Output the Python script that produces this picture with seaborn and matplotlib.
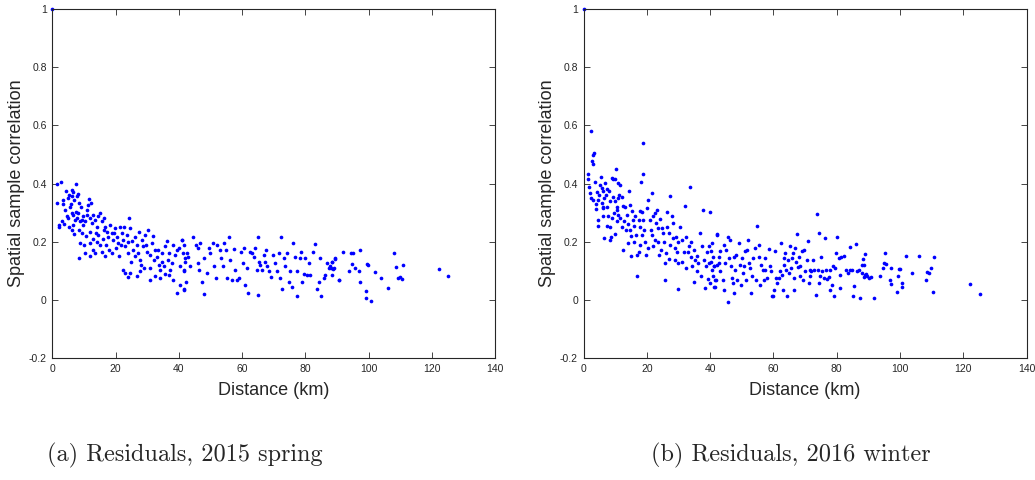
import matplotlib
matplotlib.use('Agg')
import matplotlib.pyplot as plt
import seaborn as sns
import pandas as pd

# ---- data ----------------------------------------------------------------
# (a) 2015 spring, distance < ~43 km
spring_km_near = [
    0, 1.4, 2.8, 1.6, 2.1, 2.1, 3.0, 3.3, 3.5, 4.3,
    5.1, 5.4, 6.1, 6.3, 6.7, 7.4, 7.0, 7.7, 8.0, 8.4,
    5.6, 6.1, 6.7, 7.2, 7.5, 7.7, 5.4, 6.1, 6.7, 8.8,
    8.6, 8.8, 8.6, 9.3, 9.8, 9.8, 10.3, 10.9, 11.1, 11.4,
    11.7, 12.1, 11.9, 12.5, 11.9, 13.0, 13.5, 14.0, 14.6, 15.1,
    15.6, 16.2, 10.1, 10.4, 11.9, 13.0, 13.5, 14.6, 15.1, 15.6,
    16.7, 17.2, 17.7, 18.3, 18.8, 19.3, 19.8, 20.4, 20.9, 21.4,
    22.0, 22.5, 23.0, 23.5, 24.4, 24.6, 25.1, 25.6, 22.5, 23.0,
    23.8, 24.6, 26.2, 26.7, 27.2, 27.5, 27.8, 28.3, 28.8, 26.7,
    27.8, 29.3, 29.9, 30.1, 30.9, 31.4, 32.0, 32.5, 30.9, 32.5,
    33.0, 33.6, 34.1, 34.6, 35.2, 35.7, 36.2, 34.1, 36.7, 37.2,
    37.8, 38.3, 38.8, 39.4, 39.9, 40.4, 41.0, 41.5, 42.0, 42.5,
    39.4, 40.4, 41.5, 4.0, 4.6, 3.7, 5.0, 8.2, 9.0, 9.5,
    10.6, 12.8, 14.2, 16.0, 17.0, 18.0, 19.0, 20.0, 21.0, 21.8,
    23.8, 25.0, 26.0, 28.0, 29.0, 31.0, 33.5, 35.5, 37.0, 38.0,
    13.8, 16.5, 19.5, 22.8, 24.0, 29.5, 31.8, 34.8, 36.8, 16.8,
    12.0, 7.0, 6.0]
spring_corr_near = [
    1.0, 0.399, 0.405, 0.333, 0.258, 0.250, 0.27, 0.342, 0.33, 0.376,
    0.35, 0.36, 0.356, 0.379, 0.37, 0.398, 0.344, 0.358, 0.365, 0.333,
    0.321, 0.298, 0.293, 0.275, 0.304, 0.281, 0.252, 0.241, 0.258, 0.27,
    0.239, 0.195, 0.144, 0.275, 0.287, 0.258, 0.27, 0.293, 0.31, 0.327,
    0.346, 0.333, 0.281, 0.264, 0.235, 0.293, 0.275, 0.252, 0.287, 0.298,
    0.27, 0.281, 0.19, 0.161, 0.195, 0.172, 0.161, 0.224, 0.19, 0.166,
    0.252, 0.235, 0.218, 0.258, 0.23, 0.207, 0.247, 0.218, 0.195, 0.252,
    0.23, 0.207, 0.184, 0.224, 0.281, 0.247, 0.201, 0.172, 0.103, 0.092,
    0.078, 0.092, 0.218, 0.19, 0.161, 0.235, 0.138, 0.207, 0.184, 0.081,
    0.098, 0.224, 0.166, 0.241, 0.155, 0.195, 0.138, 0.172, 0.069, 0.081,
    0.149, 0.121, 0.103, 0.132, 0.115, 0.184, 0.204, 0.075, 0.138, 0.103,
    0.126, 0.069, 0.155, 0.172, 0.178, 0.115, 0.207, 0.103, 0.144, 0.161,
    0.023, 0.052, 0.037, 0.31, 0.29, 0.26, 0.28, 0.30, 0.32, 0.23,
    0.22, 0.21, 0.20, 0.21, 0.19, 0.17, 0.16, 0.18, 0.15, 0.19,
    0.16, 0.13, 0.15, 0.12, 0.11, 0.11, 0.17, 0.09, 0.16, 0.19,
    0.23, 0.24, 0.23, 0.25, 0.20, 0.19, 0.22, 0.16, 0.085, 0.15,
    0.15, 0.225, 0.33]

# (a) 2015 spring, distance > ~40 km
spring_km_far = [
    40.9, 41.7, 41.3, 42.0, 41.5, 42.3, 41.7, 43.0, 43.6, 44.6,
    45.5, 46.2, 46.7, 45.9, 46.5, 47.3, 48.0, 47.8, 48.8, 49.4,
    49.9, 50.7, 51.0, 52.0, 51.8, 52.9, 53.3, 53.9, 54.4, 55.0,
    55.2, 56.0, 56.2, 56.8, 57.3, 57.8, 58.3, 58.9, 59.6, 60.2,
    60.7, 61.0, 61.5, 62.0, 62.6, 63.1, 63.6, 64.1, 64.7, 65.0,
    65.2, 64.9, 65.7, 66.3, 66.8, 67.3, 67.6, 68.0, 68.4, 69.1,
    69.7, 70.5, 71.0, 71.5, 72.1, 72.4, 72.6, 73.1, 73.6, 74.2,
    74.7, 75.2, 75.8, 76.1, 76.8, 77.3, 77.5, 78.2, 78.6, 78.9,
    79.4, 80.0, 80.5, 81.0, 81.5, 82.4, 83.1, 84.2, 83.7, 84.7,
    85.0, 85.8, 86.3, 86.8, 87.4, 87.9, 88.4, 88.9, 89.5, 90.5,
    88.4, 89.3, 88.2, 88.7, 88.4, 90.7, 91.8, 93.7, 94.4, 95.1,
    94.8, 95.8, 96.9, 97.2, 97.3, 99.5, 99.9, 99.2, 99.0, 100.6,
    101.9, 103.8, 106.0, 108.1, 108.6, 109.3, 109.9, 110.5, 110.8, 122.1,
    125.2]
spring_corr_far = [
    0.207, 0.189, 0.161, 0.132, 0.098, 0.063, 0.035, 0.149, 0.115, 0.216,
    0.189, 0.178, 0.195, 0.126, 0.103, 0.063, 0.021, 0.144, 0.092, 0.178,
    0.161, 0.195, 0.115, 0.189, 0.075, 0.172, 0.144, 0.115, 0.195, 0.172,
    0.075, 0.216, 0.138, 0.069, 0.175, 0.103, 0.069, 0.075, 0.166, 0.126,
    0.178, 0.052, 0.109, 0.023, 0.166, 0.161, 0.149, 0.178, 0.103, 0.216,
    0.132, 0.018, 0.121, 0.103, 0.155, 0.132, 0.172, 0.115, 0.101, 0.08,
    0.155, 0.126, 0.098, 0.161, 0.075, 0.216, 0.037, 0.144, 0.115, 0.161,
    0.063, 0.098, 0.046, 0.195, 0.149, 0.098, 0.012, 0.144, 0.166, 0.063,
    0.09, 0.144, 0.086, 0.126, 0.086, 0.166, 0.193, 0.06, 0.037, 0.144,
    0.012, 0.075, 0.086, 0.126, 0.109, 0.115, 0.132, 0.109, 0.144, 0.069,
    0.13, 0.142, 0.109, 0.106, 0.086, 0.069, 0.164, 0.101, 0.161, 0.161,
    0.122, 0.11, 0.098, 0.063, 0.17, 0.123, 0.12, 0.031, 0.007, -0.003,
    0.097, 0.077, 0.04, 0.16, 0.114, 0.075, 0.08, 0.072, 0.12, 0.107,
    0.083]

# (b) 2016 winter, distance < ~43 km
winter_km_near = [
    0, 2.3, 3.1, 3.3, 2.8, 2.9, 1.5, 1.3, 2.1, 3.6,
    3.1, 4.0, 4.7, 5.4, 5.2, 5.8, 6.3, 6.8, 7.1, 6.6,
    7.5, 8.2, 5.8, 6.3, 7.3, 4.7, 4.7, 6.1, 8.4, 8.9,
    9.4, 9.8, 10.3, 9.2, 10.0, 10.5, 7.5, 8.4, 6.6, 8.6,
    8.4, 10.0, 11.0, 11.6, 11.3, 12.1, 12.6, 10.5, 11.0, 11.6,
    10.7, 12.1, 12.4, 13.1, 13.7, 14.5, 14.7, 15.2, 15.6, 15.8,
    14.7, 14.2, 14.9, 16.8, 16.6, 17.4, 17.9, 18.2, 18.7, 18.9,
    18.4, 18.9, 17.7, 18.4, 17.9, 17.4, 16.8, 19.1, 20.0, 20.5,
    19.8, 21.0, 21.6, 22.1, 22.6, 22.9, 23.2, 21.6, 22.1, 22.6,
    23.4, 23.8, 24.2, 24.7, 25.1, 25.8, 25.8, 26.3, 26.5, 26.9,
    27.4, 27.9, 27.4, 28.2, 28.4, 29.3, 29.5, 29.0, 30.0, 30.0,
    30.5, 31.1, 31.6, 32.1, 32.4, 32.9, 33.2, 33.7, 33.9, 34.2,
    34.8, 35.0, 35.3, 35.8, 36.3, 36.9, 37.1, 37.4, 37.9, 38.1,
    38.5, 38.8, 39.0, 39.2, 39.5, 39.8, 40.0, 40.6, 41.1, 41.6,
    41.9, 42.1, 42.7,
    1.8, 2.5, 3.8, 4.4, 5.0, 6.0, 7.8, 9.0, 9.6, 10.8,
    12.8, 13.4, 14.0, 15.0, 16.0, 16.3, 19.5, 20.5, 21.2, 23.5,
    24.5, 25.5, 26.0, 27.0, 28.8, 29.8, 31.0, 32.5, 34.0, 36.0]
winter_corr_near = [
    1.0, 0.581, 0.499, 0.505, 0.476, 0.468, 0.434, 0.415, 0.367, 0.407,
    0.344, 0.312, 0.344, 0.422, 0.396, 0.384, 0.373, 0.401, 0.361, 0.35,
    0.381, 0.373, 0.335, 0.319, 0.321, 0.275, 0.255, 0.316, 0.339, 0.419,
    0.415, 0.415, 0.449, 0.353, 0.339, 0.319, 0.255, 0.252, 0.212, 0.218,
    0.207, 0.227, 0.401, 0.396, 0.361, 0.355, 0.324, 0.31, 0.293, 0.281,
    0.27, 0.252, 0.172, 0.321, 0.293, 0.373, 0.327, 0.307, 0.275, 0.255,
    0.241, 0.195, 0.152, 0.081, 0.224, 0.275, 0.307, 0.404, 0.434, 0.539,
    0.304, 0.275, 0.252, 0.224, 0.189, 0.166, 0.155, 0.241, 0.316, 0.344,
    0.155, 0.275, 0.367, 0.287, 0.298, 0.264, 0.31, 0.224, 0.184, 0.207,
    0.247, 0.155, 0.278, 0.247, 0.23, 0.069, 0.126, 0.304, 0.252, 0.23,
    0.356, 0.287, 0.189, 0.264, 0.212, 0.218, 0.166, 0.138, 0.126, 0.037,
    0.252, 0.207, 0.166, 0.324, 0.218, 0.166, 0.184, 0.39, 0.149, 0.115,
    0.172, 0.063, 0.138, 0.098, 0.126, 0.23, 0.081, 0.184, 0.31, 0.138,
    0.04, 0.115, 0.166, 0.072, 0.184, 0.126, 0.058, 0.104, 0.115, 0.046,
    0.069, 0.224, 0.126,
    0.39, 0.35, 0.33, 0.37, 0.36, 0.29, 0.29, 0.28, 0.30, 0.35,
    0.27, 0.24, 0.26, 0.22, 0.20, 0.29, 0.20, 0.18, 0.24, 0.20,
    0.17, 0.20, 0.16, 0.14, 0.18, 0.20, 0.13, 0.11, 0.20, 0.15]

# (b) 2016 winter, distance > ~40 km
winter_km_far = [
    40.0, 40.6, 40.3, 40.9, 40.2, 41.1, 40.9, 41.6, 41.3, 42.3,
    42.1, 42.7, 43.0, 43.2, 44.0, 44.3, 44.5, 44.8, 45.1, 45.5,
    45.8, 46.4, 46.1, 46.6, 46.9, 47.2, 47.4, 47.6, 47.9, 48.3,
    48.5, 49.0, 49.3, 49.7, 50.0, 50.4, 50.6, 51.1, 51.4, 51.6,
    51.9, 52.2, 52.7, 52.9, 53.2, 53.7, 54.1, 54.6, 54.8, 55.3,
    55.6, 55.9, 56.2, 56.7, 56.9, 57.2, 57.4, 58.0, 58.5, 58.8,
    59.2, 59.5, 59.9, 60.1, 60.6, 60.9, 61.1, 61.7, 62.2, 62.5,
    62.7, 63.0, 63.2, 63.4, 63.8, 64.1, 64.3, 64.5, 64.8, 65.3,
    65.6, 65.9, 66.2, 66.4, 66.6, 66.9, 67.2, 67.5, 67.7, 68.0,
    68.3, 68.5, 69.0, 69.4, 69.6, 70.1, 70.6, 70.9, 71.2, 71.5,
    71.7, 72.0, 72.5, 72.9, 73.4, 73.8, 74.0, 74.3, 74.4, 74.8,
    75.1, 75.4, 75.9, 76.4, 76.7, 76.9, 77.5, 77.8, 78.0, 78.5,
    78.8, 79.1, 79.6, 79.9, 80.1, 80.6, 80.9, 81.2, 81.5, 82.2,
    82.8, 83.5, 84.1, 84.3, 84.9, 85.2, 85.6, 86.1, 86.4, 87.0,
    87.5, 88.0, 88.3, 88.8, 89.1, 89.6, 90.1,
    88.6, 88.0, 89.4, 88.6, 90.8, 91.7, 95.2, 94.9, 95.7, 94.5,
    93.7, 97.2, 97.0, 97.2, 99.0, 99.6, 100.0, 99.3, 100.7, 100.8,
    102.0, 103.7, 106.1, 108.2, 108.6, 109.1, 109.8, 110.9, 110.4, 122.0,
    125.2]
winter_corr_far = [
    0.302, 0.195, 0.167, 0.149, 0.132, 0.115, 0.083, 0.069, 0.046, 0.226,
    0.121, 0.149, 0.167, 0.098, 0.069, 0.035, 0.19, 0.126, 0.172, -0.008,
    0.215, 0.207, 0.143, 0.115, 0.075, 0.058, 0.149, 0.023, 0.103, 0.155,
    0.069, 0.197, 0.121, 0.052, 0.143, 0.092, 0.115, 0.167, 0.069, 0.172,
    0.207, 0.126, 0.109, 0.023, 0.081, 0.143, 0.178, 0.069, 0.255, 0.149,
    0.19, 0.052, 0.121, 0.103, 0.069, 0.143, 0.103, 0.075, 0.175, 0.115,
    0.098, 0.012, 0.012, 0.035, 0.167, 0.075, 0.058, 0.075, 0.098, 0.197,
    0.086, 0.035, 0.143, 0.121, 0.161, 0.103, 0.012, 0.138, 0.092, 0.186,
    0.109, 0.143, 0.161, 0.075, 0.035, 0.178, 0.132, 0.226, 0.112, 0.149,
    0.083, 0.115, 0.167, 0.069, 0.172, 0.098, 0.138, 0.203, 0.058, 0.081,
    0.103, 0.098, 0.136, 0.103, 0.017, 0.294, 0.103, 0.23, 0.058, 0.081,
    0.149, 0.098, 0.075, 0.212, 0.103, 0.071, 0.078, 0.035, 0.103, 0.052,
    0.115, 0.014, 0.109, 0.163, 0.215, 0.143, 0.04, 0.086, 0.149, 0.151,
    0.103, 0.092, 0.181, 0.103, 0.103, 0.012, 0.049, 0.193, 0.098, 0.103,
    0.006, 0.121, 0.14, 0.157, 0.086, 0.083, 0.075,
    0.12, 0.094, 0.089, 0.078, 0.078, 0.006, 0.161, 0.126, 0.124, 0.109,
    0.082, 0.11, 0.069, 0.055, 0.028, 0.108, 0.105, 0.081, 0.058, 0.046,
    0.15, 0.092, 0.152, 0.067, 0.095, 0.093, 0.11, 0.149, 0.028, 0.056,
    0.021]

x_ticks = [0, 20, 40, 60, 80, 100, 120, 140]
y_ticks = [-0.2, 0, 0.2, 0.4, 0.6, 0.8, 1]
y_tick_labels = ['-0.2', '0', '0.2', '0.4', '0.6', '0.8', '1']
captions = ['(a) Residuals, 2015 spring', '(b) Residuals, 2016 winter']
#--------------------------------------------------------------------------

sns.set_style('ticks')
plt.rcParams['font.family'] = ['Liberation Sans', 'DejaVu Sans']

spring = pd.DataFrame({'km': spring_km_near + spring_km_far,
                       'corr': spring_corr_near + spring_corr_far})
winter = pd.DataFrame({'km': winter_km_near + winter_km_far,
                       'corr': winter_corr_near + winter_corr_far})

fig = plt.figure(figsize=(10.35, 4.8), dpi=100)
ax1 = fig.add_axes([0.0505, 0.254, 0.428, 0.727])
ax2 = fig.add_axes([0.5638, 0.254, 0.428, 0.727])

for ax, df, cap, cx in [(ax1, spring, captions[0], 0.179),
                        (ax2, winter, captions[1], 0.764)]:
    sns.scatterplot(x='km', y='corr', data=df, ax=ax, color='#0000ff',
                    s=7, linewidth=0, marker='o', clip_on=False)
    ax.set_xlim(0, 140)
    ax.set_ylim(-0.2, 1)
    ax.set_xticks(x_ticks)
    ax.set_yticks(y_ticks)
    ax.set_yticklabels(y_tick_labels)
    ax.tick_params(direction='in', top=True, right=True, length=4,
                   width=0.6, labelsize=7.5, colors='#262626', pad=4)
    for sp in ax.spines.values():
        sp.set_visible(True)
        sp.set_color('#262626')
        sp.set_linewidth(0.8)
    ax.set_xlabel('Distance (km)', fontsize=13, color='#262626', labelpad=6)
    ax.set_ylabel('Spatial sample correlation', fontsize=13,
                  color='#262626', labelpad=3)
    fig.text(cx, 0.052, cap, ha='center', va='center', fontsize=17.5,
             family='cmr10')

fig.savefig('out.png', dpi=100)
